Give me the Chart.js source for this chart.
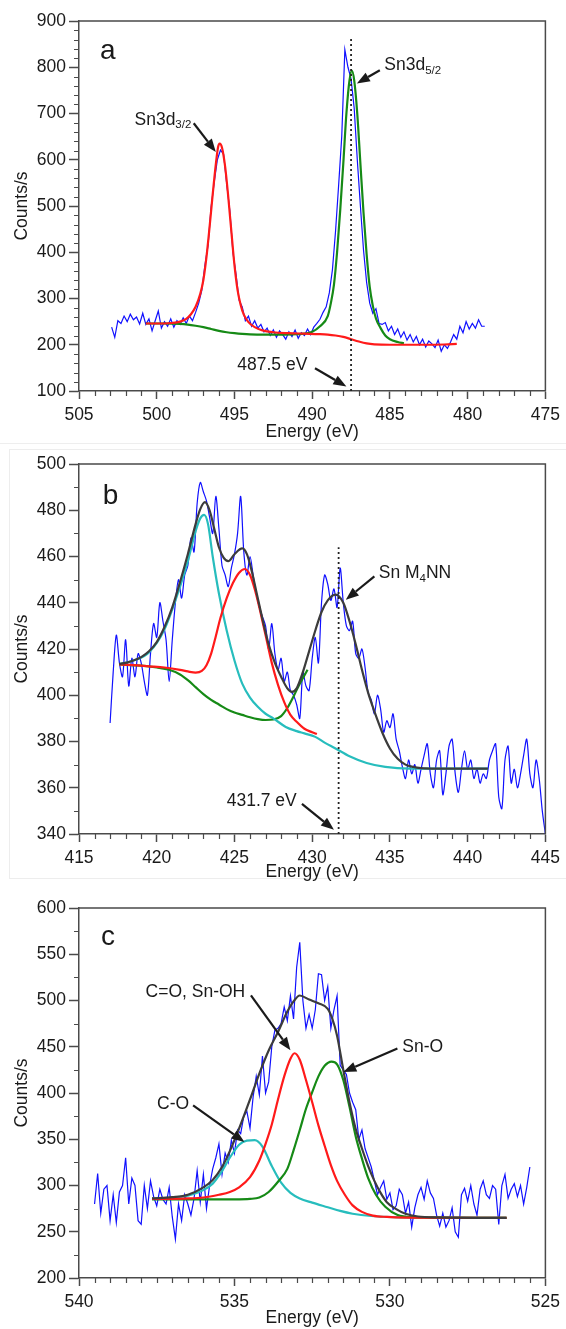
<!DOCTYPE html>
<html>
<head>
<meta charset="utf-8">
<title>Sn 3d, Sn MNN and O 1s spectra</title>
<script src="https://cdn.jsdelivr.net/npm/chart.js@4.4.1/dist/chart.umd.min.js"></script>
<style>
  html, body { margin: 0; padding: 0; background: #fff; }
  body { position: relative; width: 566px; height: 1329px; overflow: hidden; }
  canvas { position: absolute; left: 0; }
  #rule { position: absolute; left: 0; top: 443px; width: 566px; border-top: 1px solid #eeeeee; }
  #boxB { position: absolute; left: 9px; top: 449px; width: 570px; height: 428px;
          border-left: 1px solid #ededed; border-top: 1px solid #ededed; border-bottom: 1px solid #ededed; }
</style>
</head>
<body>
<div id="rule"></div>
<div id="boxB"></div>
<canvas id="chartA" width="566" height="443" style="top:0"></canvas>
<canvas id="chartB" width="566" height="440" style="top:443px"></canvas>
<canvas id="chartC" width="566" height="446" style="top:883px"></canvas>
<script>
// ---- (a) Sn 3d region: raw counts, 0.2 eV steps from 502.9 eV downwards
const aStart = 502.9, aStep = -0.2;
const aCounts = [
  238, 216, 252, 246, 262, 250, 266, 254, 260, 245,
  268, 244, 256, 230, 252, 273, 236, 250, 240, 256,
  238, 252, 244, 258, 246, 262, 252, 270, 290, 318,
  372, 415, 498, 552, 600, 621, 612, 548, 490, 400,
  352, 296, 282, 252, 262, 240, 252, 236, 244, 228,
  236, 220, 232, 216, 230, 222, 212, 228, 218, 232,
  214, 226, 220, 234, 222, 238, 246, 255, 270, 282,
  312, 362, 445, 545, 650, 838, 800, 775, 712, 600,
  500, 405, 335, 290, 268, 278, 246, 244, 248, 230,
  240, 222, 234, 216, 228, 210, 222, 206, 218, 200,
  212, 195, 208, 202, 194, 210, 186, 200, 192, 206,
  222, 212, 240, 226, 250, 234, 246, 236, 254, 240,
  240
];
// fit: Sn3d3/2 component on its background (red)
const aRedE = [500.7, 499.5, 499.0, 498.5, 498.1, 497.8, 497.5, 497.2, 497.0, 496.8,
  496.6, 496.4, 496.2, 496.05, 495.95, 495.8, 495.6, 495.4, 495.2, 495.0,
  494.8, 494.6, 494.4, 494.1, 493.7, 493.2, 492.5, 491.5, 490.5, 489.5,
  489.0, 488.5, 488.0, 487.5, 487.0, 486.5, 486.0, 485.0, 483.0, 481.5, 480.7];
const aRed = [246, 246, 247, 250, 256, 266, 282, 310, 340, 390,
  455, 525, 590, 628, 635, 626, 585, 520, 445, 372,
  318, 286, 265, 249, 238, 231, 227, 225, 224, 223,
  222, 220, 217, 212, 207, 203, 201, 200, 200, 200.5, 202];
// fit: Sn3d5/2 component on its background (green)
const aGreenE = [500.7, 499.5, 498.5, 498.0, 497.5, 497.0, 496.5, 496.0, 495.5, 495.0,
  494.5, 494.0, 493.0, 492.0, 491.0, 490.5, 490.0, 489.5, 489.0, 488.8,
  488.6, 488.4, 488.2, 488.0, 487.8, 487.6, 487.45, 487.3, 487.1, 486.9,
  486.7, 486.5, 486.3, 486.1, 485.9, 485.6, 485.3, 485.0, 484.5, 484.1];
const aGreen = [246, 246, 245, 243.5, 241, 238, 234, 230, 227, 225,
  223.5, 222.5, 222, 222, 223, 224, 228, 240, 262, 290,
  330, 400, 490, 592, 700, 772, 793, 772, 699, 592,
  486, 396, 325, 284, 257, 236, 220, 212, 206, 203];
const aMarkerE = 487.5;

// ---- (b) Sn MNN Auger region: raw counts, 0.2 eV steps from 417.0 eV upwards
const bStart = 417.0, bStep = 0.2;
const bCounts = [
  388, 410, 426, 414, 408, 424, 404, 416, 408, 418,
  414, 406, 400, 418, 431, 425, 440, 432, 424, 406,
  424, 440, 450, 442, 452, 456, 468, 462, 483, 492,
  488, 484, 477, 470, 486, 472, 456, 452, 447, 455,
  461, 470, 486, 462, 452, 460, 452, 444, 438, 434,
  430, 420, 431, 418, 411, 416, 406, 410, 402, 400,
  396, 390, 410, 404, 402, 416, 425, 414, 440, 452,
  448, 441, 446, 438, 455, 440, 430, 428, 432, 418,
  416, 420, 412, 401, 398, 392, 400, 394, 384, 389,
  386, 392, 381, 376, 369, 364, 372, 366, 370, 362,
  368, 374, 379, 366, 360, 372, 376, 357, 366, 378,
  381, 366, 358, 368, 376, 368, 372, 364, 368, 362,
  366, 364, 372, 376, 379, 356, 351, 372, 378, 362,
  368, 360, 366, 374, 381, 366, 360, 372, 364, 350,
  340
];
// fit envelope (grey)
const bGreyE = [417.58, 418.0, 418.5, 419.0, 419.5, 420.0, 420.5, 421.0, 421.5, 422.0,
  422.5, 422.8, 423.1, 423.4, 423.7, 424.0, 424.3, 424.6, 425.0, 425.5,
  425.8, 426.1, 426.4, 426.8, 427.2, 427.6, 428.0, 428.4, 428.7, 429.0,
  429.4, 429.8, 430.2, 430.6, 431.0, 431.5, 432.0, 432.4, 432.8, 433.2,
  433.6, 434.0, 434.5, 435.0, 435.5, 436.0, 436.5, 437.0, 438.0, 441.3];
const bGrey = [413.5, 414, 415, 416.5, 419, 423, 429.5, 438, 449, 461,
  474, 480.5, 483.5, 480, 472, 464, 459.5, 458, 461, 463.5,
  461, 454, 445, 433, 422, 414, 408, 403, 401.5, 403,
  410, 419, 428, 436, 441, 443.5, 440, 432, 422, 411,
  401, 393, 384, 377, 372.5, 370, 369, 368.5, 368.3, 368.3];
// components (cyan, red, green)
const bCyanE = [417.58, 418.5, 419.5, 420.5, 421.5, 422.0, 422.5, 422.8, 423.05, 423.3,
  423.6, 424.0, 424.5, 425.0, 425.5, 426.0, 426.5, 427.0, 427.5, 428.3,
  429.0, 429.5, 430.2, 430.8, 431.5, 432.4, 433.5, 434.7, 436.3, 441.3];
const bCyan = [413.5, 415, 418.5, 428.5, 447, 458, 471, 476.5, 478, 474,
  460, 444, 428, 415, 405, 399, 395, 392, 390, 386.3,
  384.5, 383.5, 382, 379.5, 377, 373.6, 370.7, 369, 368.3, 368.3];
const bRedE = [417.58, 418.5, 419.5, 420.5, 421.5, 422.0, 422.5, 422.9, 423.2, 423.5,
  423.8, 424.1, 424.5, 424.9, 425.3, 425.68, 426.0, 426.3, 426.6, 427.0,
  427.4, 427.8, 428.2, 428.6, 429.0, 429.5, 430.0, 430.3];
const bRed = [413.3, 413, 412.5, 412, 411, 410.3, 409.8, 410.5, 413, 418,
  425.5, 433.5, 442, 448.5, 453, 454.6, 452, 446, 438, 426,
  414, 404.5, 397, 391.5, 388.5, 385.5, 384, 383.2];
const bGreenE = [417.58, 419.0, 420.0, 420.8, 421.5, 422.0, 422.5, 423.0, 423.5, 424.0,
  424.5, 425.0, 425.5, 426.0, 426.5, 427.0, 427.5, 428.0, 428.4, 428.8,
  429.2, 429.7];
const bGreen = [413.3, 412.8, 412, 411, 409, 406.5, 403.5, 400.5, 398, 396,
  394, 392.5, 391.5, 390.5, 389.7, 389.3, 389.5, 391, 394.5, 399.5,
  405, 411];
const bMarkerE = 431.7;

// ---- (c) O 1s region: raw counts, 0.1 eV steps from 539.5 eV downwards
const cStart = 539.5, cStep = -0.1;
const cCounts = [
  280, 313, 270, 296, 300, 262, 290, 260, 293, 300,
  330, 280, 308, 300, 262, 258, 300, 275, 305, 288,
  278, 296, 285, 280, 298, 266, 242, 280, 262, 290,
  280, 268, 286, 316, 282, 312, 275, 300, 318, 330,
  345, 312, 335, 325, 349, 335, 360, 356, 375, 380,
  362, 396, 418, 398, 440, 400, 412, 450, 468, 470,
  475, 493, 478, 505, 480, 536, 563, 500, 470, 485,
  470, 490, 529, 528, 500, 515, 470, 490, 505, 430,
  425, 420, 400, 390, 382, 350, 360, 340, 330, 320,
  305, 290, 298, 305, 285, 292, 274, 278, 296, 290,
  270, 282, 255, 276, 290, 298, 285, 305, 292, 286,
  268, 256, 270, 255, 262, 276, 250, 244, 290, 297,
  283, 300, 280, 268, 296, 305, 290, 286, 300, 296,
  258, 300, 312, 286, 296, 302, 288, 300, 280, 298,
  320
];
const cGreyE = [537.65, 537.0, 536.5, 536.0, 535.7, 535.4, 535.1, 534.8, 534.5, 534.2,
  533.9, 533.6, 533.3, 533.1, 532.9, 532.6, 532.3, 532.0, 531.85, 531.7,
  531.5, 531.3, 531.1, 530.9, 530.7, 530.5, 530.3, 530.1, 529.8, 529.5,
  529.1, 528.5, 526.25];
const cGrey = [286, 287.4, 290, 298, 306, 320, 341, 366, 393, 421,
  446, 466, 488, 499, 505.4, 501, 497, 491, 480, 462,
  425, 390, 361, 340, 321, 305, 292, 282, 274.5, 269.5,
  266.5, 265.5, 265];
const cRedE = [537.65, 536.5, 536.0, 535.5, 535.15, 534.85, 534.5, 534.2, 534.0, 533.8,
  533.6, 533.4, 533.2, 533.07, 532.9, 532.7, 532.5, 532.3, 532.1, 531.9,
  531.7, 531.45, 531.2, 530.9, 530.55, 530.1, 529.5, 526.25];
const cRed = [285.5, 286, 287, 290, 293, 298, 309, 327, 345, 366,
  393, 418, 437, 443, 436, 414, 390, 365, 343, 322,
  305, 290, 278.5, 271.5, 267.5, 266, 265.3, 265];
const cGreenE = [537.65, 535.0, 534.5, 534.2, 533.9, 533.6, 533.3, 533.1, 532.9, 532.7,
  532.5, 532.3, 532.1, 531.88, 531.7, 531.5, 531.3, 531.1, 530.9, 530.7,
  530.45, 530.15, 529.75, 529.3, 526.25];
const cGreen = [285, 285, 285.5, 287, 293, 304, 318, 338, 360, 383,
  401, 418, 429.5, 434, 431, 414, 385, 353, 329, 308,
  290, 277, 268, 265.8, 265];
const cCyanE = [537.65, 537.0, 536.5, 536.0, 535.7, 535.45, 535.15, 534.85, 534.6, 534.35,
  534.1, 533.8, 533.5, 533.2, 532.9, 532.5, 532.0, 531.6, 531.2, 530.6,
  529.9, 526.25];
const cCyan = [286, 287, 289, 295, 302, 313, 330, 344, 348.5, 349,
  342, 321, 303, 292, 286, 281.5, 276.5, 272.5, 269.5, 267,
  265.8, 265];

// ---- styling
const FONT = "'Liberation Sans', Arial, sans-serif";
const INK = '#1a1a1a';
const AXIS = '#4a4a4a';
const BLUE = '#1010ff', RED = '#ff1a1a', GREEN = '#168a16', CYAN = '#27bdbd', GREY = '#3c3c3c';

Chart.defaults.font.family = FONT;
Chart.defaults.font.size = 17.5;
Chart.defaults.color = INK;

function series(start, step, values) {
  return values.map((v, i) => ({ x: Math.round((start + i * step) * 100) / 100, y: v }));
}
function pairs(xs, ys) {
  return xs.map((x, i) => ({ x: x, y: ys[i] }));
}
function rawLine(data, tension) {
  return { data: data, borderColor: BLUE, borderWidth: 1.2, pointRadius: 0, tension: tension };
}
function fitLine(data, color) {
  return { data: data, borderColor: color, borderWidth: 2.2, pointRadius: 0,
           cubicInterpolationMode: 'monotone' };
}
function markerLine(e, y0, y1) {
  return { data: [{ x: e, y: y0 }, { x: e, y: y1 }], borderColor: '#222',
           borderWidth: 1.8, borderDash: [2, 3], pointRadius: 0 };
}

function drawArrow(ctx, x1, y1, x2, y2) {
  const ang = Math.atan2(y2 - y1, x2 - x1);
  const len = 13, half = 5;
  const bx = x2 - len * Math.cos(ang), by = y2 - len * Math.sin(ang);
  ctx.lineWidth = 2.2;
  ctx.beginPath();
  ctx.moveTo(x1, y1);
  ctx.lineTo(bx, by);
  ctx.stroke();
  ctx.beginPath();
  ctx.moveTo(x2, y2);
  ctx.lineTo(bx + half * Math.sin(ang), by - half * Math.cos(ang));
  ctx.lineTo(bx - half * Math.sin(ang), by + half * Math.cos(ang));
  ctx.closePath();
  ctx.fill();
}

// frame, minor ticks, panel letter, labels and arrows
function decor(spec) {
  return {
    id: 'decor',
    afterDatasetsDraw(chart) {
      const { ctx, chartArea: area, scales: { x, y } } = chart;
      ctx.save();
      ctx.strokeStyle = AXIS;
      ctx.lineWidth = 1.5;
      ctx.beginPath();
      ctx.moveTo(area.left, area.top);
      ctx.lineTo(area.right, area.top);
      ctx.lineTo(area.right, area.bottom);
      ctx.stroke();

      ctx.lineWidth = 1.2;
      ctx.beginPath();
      const isMajor = (v, step) => Math.abs(v / step - Math.round(v / step)) < 1e-6;
      const nx = Math.round((x.max - x.min) / spec.minorX);
      for (let i = 1; i < nx; i++) {
        const v = x.min + i * spec.minorX;
        if (isMajor(v, spec.majorX)) continue;
        const px = Math.round(x.getPixelForValue(v)) + 0.5;
        ctx.moveTo(px, area.bottom);
        ctx.lineTo(px, area.bottom + 5);
      }
      const ny = Math.round((y.max - y.min) / spec.minorY);
      for (let i = 1; i < ny; i++) {
        const v = y.min + i * spec.minorY;
        if (isMajor(v, spec.majorY)) continue;
        const py = Math.round(y.getPixelForValue(v)) + 0.5;
        ctx.moveTo(area.left - 5, py);
        ctx.lineTo(area.left, py);
      }
      ctx.stroke();

      ctx.fillStyle = INK;
      ctx.strokeStyle = INK;
      ctx.textBaseline = 'alphabetic';
      ctx.font = '28px ' + FONT;
      ctx.fillText(spec.letter.text, x.getPixelForValue(spec.letter.x), y.getPixelForValue(spec.letter.y));

      ctx.textBaseline = 'middle';
      spec.labels.forEach(l => {
        let px = x.getPixelForValue(l.x);
        const py = y.getPixelForValue(l.y);
        l.parts.forEach(part => {
          if (typeof part === 'string') {
            ctx.font = '17.5px ' + FONT;
            ctx.fillText(part, px, py);
            px += ctx.measureText(part).width;
          } else {
            ctx.font = '11.5px ' + FONT;
            ctx.fillText(part.sub, px, py + 5);
            px += ctx.measureText(part.sub).width;
          }
        });
      });

      spec.arrows.forEach(a => {
        drawArrow(ctx, x.getPixelForValue(a[0]), y.getPixelForValue(a[1]),
                  x.getPixelForValue(a[2]), y.getPixelForValue(a[3]));
      });
      ctx.restore();
    }
  };
}

function buildPanel(p) {
  const gridOpts = { drawOnChartArea: false, drawTicks: true, color: AXIS, tickColor: AXIS, tickWidth: 1.5 };
  const borderOpts = { display: true, color: AXIS, width: 1.5 };
  return new Chart(document.getElementById(p.id), {
    type: 'line',
    data: { datasets: p.datasets },
    options: {
      responsive: false,
      animation: false,
      events: [],
      layout: { padding: p.pad },
      plugins: { legend: { display: false }, tooltip: { enabled: false } },
      scales: {
        x: {
          type: 'linear', min: p.x[0], max: p.x[1], reverse: p.reverse,
          afterFit: s => { s.height = p.xHeight; },
          ticks: { stepSize: p.x[2], padding: 6, maxRotation: 0, autoSkip: false },
          grid: Object.assign({ tickLength: 8 }, gridOpts),
          border: borderOpts,
          title: { display: true, text: 'Energy (eV)', padding: 0 }
        },
        y: {
          type: 'linear', min: p.y[0], max: p.y[1],
          afterFit: s => { s.width = 79; },
          ticks: { stepSize: p.y[2], padding: 3 },
          grid: Object.assign({ tickLength: 10 }, gridOpts),
          border: borderOpts,
          title: { display: true, text: 'Counts/s', padding: { top: 11.5, bottom: 0 } }
        }
      }
    },
    plugins: [decor({
      majorX: p.x[2], minorX: p.x[3], majorY: p.y[2], minorY: p.y[3],
      letter: p.letter, labels: p.labels, arrows: p.arrows
    })]
  });
}

// Sn 3d
buildPanel({
  id: 'chartA', x: [475, 505, 5, 1], reverse: true, y: [100, 900, 100, 20],
  pad: { top: 21, right: 15, bottom: 0, left: 0 }, xHeight: 52,
  datasets: [
    markerLine(aMarkerE, 100, 865),
    fitLine(pairs(aRedE, aRed), RED),
    fitLine(pairs(aGreenE, aGreen), GREEN),
    rawLine(series(aStart, aStep, aCounts), 0)
  ],
  letter: { text: 'a', x: 503.65, y: 818.8 },
  labels: [
    { x: 485.36, y: 804, parts: ['Sn3d', { sub: '5/2' }] },
    { x: 501.43, y: 685.6, parts: ['Sn3d', { sub: '3/2' }] },
    { x: 494.82, y: 154.9, parts: ['487.5 eV'] }
  ],
  arrows: [
    [485.65, 793.5, 487.13, 764.8],
    [497.62, 679, 496.2, 617],
    [489.82, 149.2, 487.8, 109.5]
  ]
});

// Sn M4NN
buildPanel({
  id: 'chartB', x: [415, 445, 5, 1], reverse: false, y: [340, 500, 20, 10],
  pad: { top: 21, right: 15, bottom: 0, left: 0 }, xHeight: 49,
  datasets: [
    markerLine(bMarkerE, 340, 464),
    fitLine(pairs(bGreyE, bGrey), GREY),
    fitLine(pairs(bRedE, bRed), RED),
    fitLine(pairs(bCyanE, bCyan), CYAN),
    fitLine(pairs(bGreenE, bGreen), GREEN),
    rawLine(series(bStart, bStep, bCounts), 0.3)
  ],
  letter: { text: 'b', x: 416.52, y: 482.8 },
  labels: [
    { x: 434.28, y: 452.6, parts: ['Sn M', { sub: '4' }, 'NN'] },
    { x: 424.5, y: 354, parts: ['431.7 eV'] }
  ],
  arrows: [
    [434.0, 451.4, 432.16, 441.3],
    [429.34, 353, 431.4, 341.8]
  ]
});

// O 1s
buildPanel({
  id: 'chartC', x: [525, 540, 5, 0.5], reverse: true, y: [200, 600, 50, 25],
  pad: { top: 25, right: 15, bottom: 0, left: 0 }, xHeight: 51,
  datasets: [
    fitLine(pairs(cGreyE, cGrey), GREY),
    fitLine(pairs(cRedE, cRed), RED),
    fitLine(pairs(cGreenE, cGreen), GREEN),
    fitLine(pairs(cCyanE, cCyan), CYAN),
    rawLine(series(cStart, cStep, cCounts), 0)
  ],
  letter: { text: 'c', x: 539.29, y: 559.7 },
  labels: [
    { x: 537.86, y: 509.2, parts: ['C=O, Sn-OH'] },
    { x: 537.49, y: 387.7, parts: ['C-O'] },
    { x: 529.6, y: 449.7, parts: ['Sn-O'] }
  ],
  arrows: [
    [534.47, 505.6, 533.2, 446.2],
    [536.33, 386.6, 534.68, 347],
    [529.76, 448, 531.5, 422.7]
  ]
});
</script>
</body>
</html>
